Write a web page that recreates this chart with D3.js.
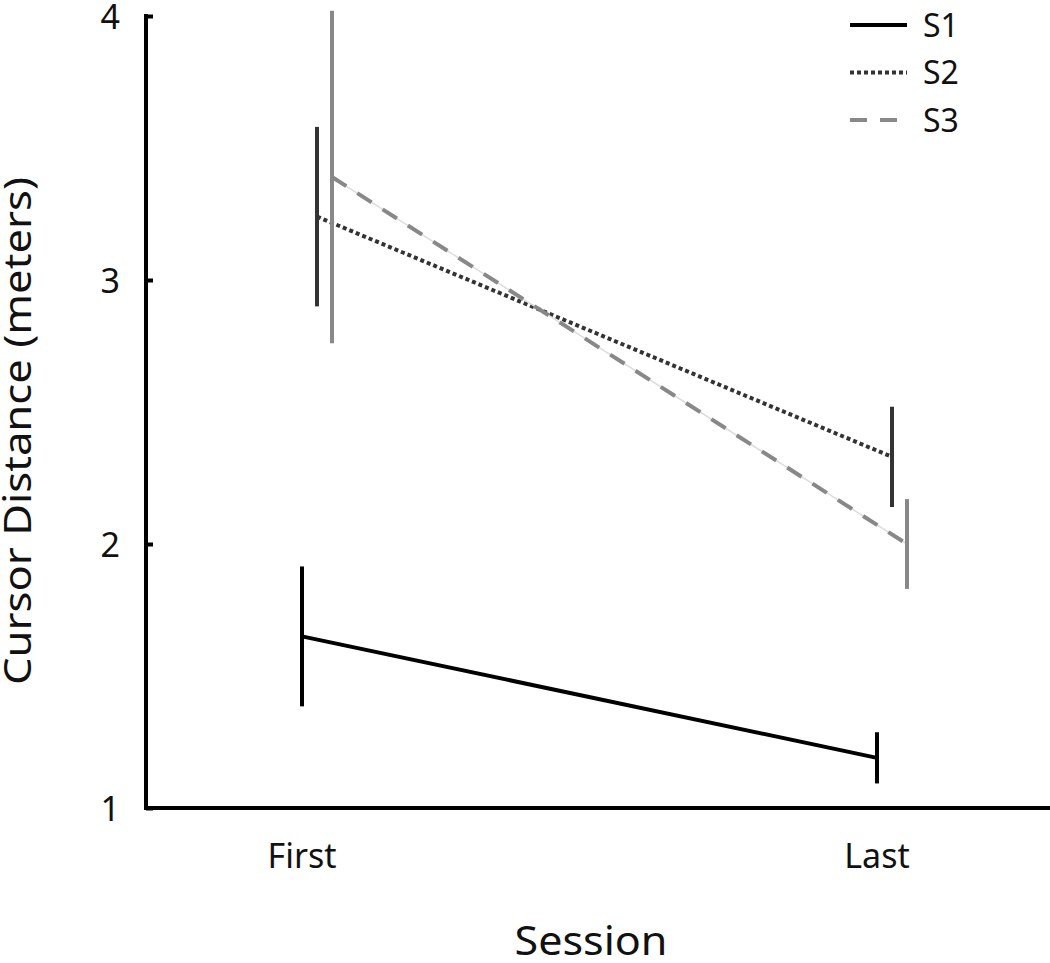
<!DOCTYPE html>
<html>
<head>
<meta charset="utf-8">
<script src="https://cdn.jsdelivr.net/npm/d3@7"></script>
<style>
  body { margin: 0; background: #fff; }
  svg text { font-family: "Noto Sans", "Open Sans", sans-serif; fill: #111; }
</style>
</head>
<body>
<div id="chart"></div>
<script>
// data
var sessions = ["First", "Last"];
var seriesNames = ["S1", "S2", "S3"];
var means = [
    [1.65, 1.19],
    [3.24, 2.33],
    [3.39, 2.00]
];
var errors = [
    [0.265, 0.097],
    [0.34, 0.19],
    [0.63, 0.17]
];
var yTicks = [1, 2, 3, 4];

var styles = [
    {color: "#000", dash: null},
    {color: "#333", dash: "4,3"},
    {color: "#888", dash: "17,13"}
];

function drawChart() {
    var width = 1050, height = 963;

    var svg = d3.select("#chart")
        .append("svg")
        .attr("width", width)
        .attr("height", height);

    var y = d3.scaleLinear().domain([1, 4]).range([808, 16]);
    var x = d3.scalePoint().domain(sessions).range([302, 877]);
    var dodge = d3.scalePoint().domain(seriesNames).range([0, 30]);

    // y axis
    var yAxis = svg.append("g")
        .attr("transform", "translate(146,0)")
        .call(d3.axisRight(y).tickValues(yTicks).tickSize(7).tickFormat(d3.format("d")));
    yAxis.select(".domain").remove();
    yAxis.selectAll(".tick line").attr("stroke", "#000").attr("stroke-width", 4);
    yAxis.selectAll(".tick text")
        .attr("x", -26)
        .attr("text-anchor", "end")
        .attr("dy", "0.36em")
        .attr("font-size", 34);

    svg.append("path")
        .attr("d", "M146," + (y(4) - 2) + "V" + y(1) + "H1050")
        .attr("fill", "none")
        .attr("stroke", "#000")
        .attr("stroke-width", 4);

    // x labels
    svg.append("g")
        .selectAll("text")
        .data(sessions)
        .enter()
        .append("text")
        .attr("x", function(d) { return x(d); })
        .attr("y", 868)
        .attr("text-anchor", "middle")
        .attr("font-size", 34)
        .text(function(d) { return d; });

    svg.append("text")
        .attr("x", 591)
        .attr("y", 955)
        .attr("text-anchor", "middle")
        .attr("font-size", 40)
        .attr("textLength", 153)
        .attr("lengthAdjust", "spacingAndGlyphs")
        .text("Session");

    svg.append("text")
        .attr("transform", "translate(31,431) rotate(-90)")
        .attr("text-anchor", "middle")
        .attr("font-size", 39)
        .attr("textLength", 508)
        .attr("lengthAdjust", "spacingAndGlyphs")
        .text("Cursor Distance (meters)");

    var rows = seriesNames.map(function(name, i) {
        return {
            name: name,
            style: styles[i],
            points: sessions.map(function(s, j) {
                return {session: s, mean: means[i][j], err: errors[i][j]};
            })
        };
    });

    var groups = svg.append("g")
        .selectAll("g")
        .data(rows)
        .enter()
        .append("g");

    function seriesPath(r) {
        return d3.line()
            .x(function(d) { return x(d.session) + dodge(r.name); })
            .y(function(d) { return y(d.mean); })(r.points);
    }

    // thin faint line under the dashed series
    groups.filter(function(d) { return d.name === "S3"; })
        .append("path")
        .attr("d", seriesPath)
        .attr("fill", "none")
        .attr("stroke", "#ddd")
        .attr("stroke-width", 1.5);

    groups.append("path")
        .attr("d", seriesPath)
        .attr("fill", "none")
        .attr("stroke", function(r) { return r.style.color; })
        .attr("stroke-width", 4)
        .attr("stroke-dasharray", function(r) { return r.style.dash; });

    groups.selectAll("line.err")
        .data(function(r) {
            return r.points.map(function(p) { return {p: p, r: r}; });
        })
        .enter()
        .append("line")
        .attr("class", "err")
        .attr("x1", function(d) { return x(d.p.session) + dodge(d.r.name); })
        .attr("x2", function(d) { return x(d.p.session) + dodge(d.r.name); })
        .attr("y1", function(d) { return y(d.p.mean - d.p.err); })
        .attr("y2", function(d) { return y(d.p.mean + d.p.err); })
        .attr("stroke", function(d) { return d.r.style.color; })
        .attr("stroke-width", 4);

    // legend
    var legend = svg.append("g")
        .selectAll("g")
        .data(rows)
        .enter()
        .append("g")
        .attr("transform", function(d, i) { return "translate(850," + (25 + i * 47.5) + ")"; });

    legend.append("line")
        .attr("x1", 0)
        .attr("x2", 57)
        .attr("stroke", function(d) { return d.style.color; })
        .attr("stroke-width", 4)
        .attr("stroke-dasharray", function(d) { return d.style.dash; });

    legend.append("text")
        .attr("x", 73)
        .attr("dy", "0.36em")
        .attr("font-size", 32)
        .text(function(d) { return d.name; });
}

drawChart();
</script>
</body>
</html>
